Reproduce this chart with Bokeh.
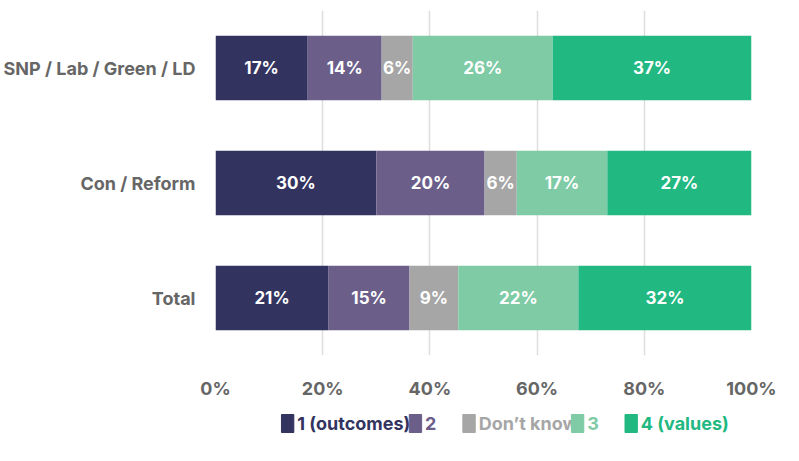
from bokeh.plotting import figure
from bokeh.layouts import column
from bokeh.models import ColumnDataSource, Range1d, FactorRange, NumeralTickFormatter
from bokeh.core.properties import value
from bokeh.embed import file_html
from bokeh.resources import INLINE

categories = ["SNP / Lab / Green / LD", "Con / Reform", "Total"]
series = ["1 (outcomes)", "2", "Don\u2019t know", "3", "4 (values)"]
colors = ["#33335f", "#6b5f8a", "#a6a6a6", "#7ecba5", "#22b882"]
vals = {
    "1 (outcomes)": [17.2, 30.0, 21.1],
    "2": [13.8, 20.2, 15.1],
    "Don\u2019t know": [5.8, 6.0, 9.1],
    "3": [26.1, 16.9, 22.4],
    "4 (values)": [37.1, 26.9, 32.3],
}
labels = {
    "1 (outcomes)": [17, 30, 21],
    "2": [14, 20, 15],
    "Don\u2019t know": [6, 6, 9],
    "3": [26, 17, 22],
    "4 (values)": [37, 27, 32],
}
ticks = [0, 20, 40, 60, 80, 100]

FONT = "Inter"
p = figure(y_range=FactorRange(*categories[::-1], range_padding=0), x_range=Range1d(0, 100),
           frame_width=536, frame_height=345, min_border_right=30, min_border_top=10,
           min_border_left=8, min_border_bottom=10,
           output_backend="svg", toolbar_location=None)
p.outline_line_color = None
p.ygrid.grid_line_color = None
p.xgrid.grid_line_color = "#dddddd"
p.xgrid.grid_line_width = 1.5
p.xaxis.ticker = ticks
p.xaxis.formatter = NumeralTickFormatter(format="0")
p.xaxis.major_label_overrides = {t: f"{t}%" for t in ticks}
for ax in (p.xaxis, p.yaxis):
    ax.axis_line_color = None
    ax.major_tick_line_color = None
    ax.minor_tick_line_color = None
    ax.major_label_text_font = FONT
    ax.major_label_text_font_size = "18px"
    ax.major_label_text_font_style = "bold"
    ax.major_label_text_color = "#666666"
p.xaxis.major_label_standoff = 16
p.yaxis.major_label_standoff = 14

left = [0.0, 0.0, 0.0]
for s, c in zip(series, colors):
    right = [l + v for l, v in zip(left, vals[s])]
    mid = [(l + r) / 2 for l, r in zip(left, right)]
    src = ColumnDataSource(dict(y=categories, left=left, right=right, mid=mid,
                                txt=[f"{v}%" for v in labels[s]]))
    p.hbar(y="y", left="left", right="right", height=0.56, source=src, color=c, line_color=None)
    p.text(x="mid", y="y", text="txt", source=src, text_align="center", text_baseline="middle",
           text_color="white", text_font=value(FONT), text_font_size="17px", text_font_style="bold")
    left = right

lg = figure(width=783, height=40, x_range=Range1d(0, 783), y_range=Range1d(0, 40),
            output_backend="svg", toolbar_location=None, min_border=0)
lg.axis.visible = False
lg.grid.visible = False
lg.outline_line_color = None
sq_x = [105, 291, 369, 527, 605]
for s, c, x in zip(series, colors, sq_x):
    lg.rect(x=[x], y=[18], width=18, height=18, color=c)
    lg.text(x=[x + 14], y=[18], text=[s], text_baseline="middle", text_color=c,
            text_font=value(FONT), text_font_size="18px", text_font_style="bold")

out = column(p, lg, spacing=0)
open("out.html", "w").write(file_html(out, INLINE))
